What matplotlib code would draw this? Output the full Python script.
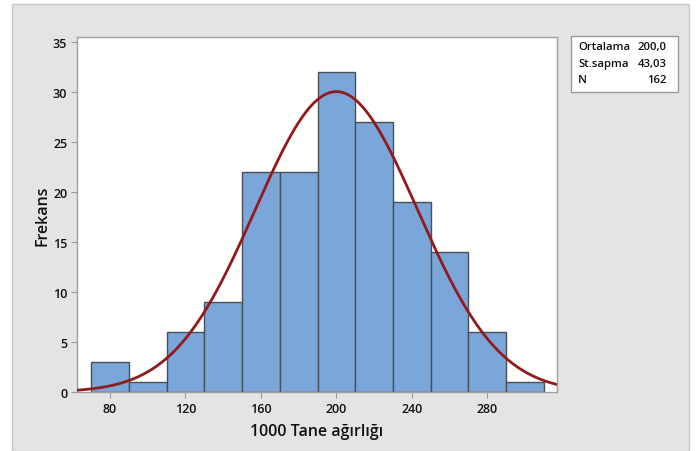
import numpy as np
import matplotlib.pyplot as plt
from matplotlib.patches import Rectangle

plt.rcParams['font.family'] = ['Open Sans', 'DejaVu Sans']

# histogram of 1000-seed weight, bins of width 20
bin_edges = [70, 90, 110, 130, 150, 170, 190, 210, 230, 250, 270, 290, 310]
counts = [3, 1, 6, 9, 22, 22, 32, 27, 19, 14, 6, 1]
mean = 200.0
sd = 43.03
n = 162
x_ticks = [80, 120, 160, 200, 240, 280]
y_ticks = [0, 5, 10, 15, 20, 25, 30, 35]
stat_names = ['Ortalama', 'St.sapma', 'N']
stat_values = ['200,0', '43,03', '162']

W, H = 696, 452
fig = plt.figure(figsize=(W / 100, H / 100), dpi=100)
fig.patch.set_facecolor('white')

# grey panel behind everything
fig.patches.append(Rectangle((12 / W, 0), (689 - 12) / W, (H - 5) / H,
                             transform=fig.transFigure, facecolor='#e4e4e4',
                             edgecolor='#c8c8c8', linewidth=1, zorder=-10))

ax = fig.add_axes([77 / W, 1 - 393 / H, (556.5 - 77) / W, (393 - 38) / H])
ax.set_facecolor('white')

widths = np.diff(bin_edges)
ax.bar(bin_edges[:-1], counts, width=widths, align='edge', color='#7ba6da',
       edgecolor='#4a4f57', linewidth=1, zorder=2)

xlim = (62.5, 316.7)
xs = np.linspace(xlim[0], xlim[1], 400)
binw = bin_edges[1] - bin_edges[0]
ys = n * binw * np.exp(-0.5 * ((xs - mean) / sd) ** 2) / (sd * np.sqrt(2 * np.pi))
ax.plot(xs, ys, color='#921a1c', linewidth=2, zorder=3)

ax.set_xlim(*xlim)
ax.set_ylim(0, 35.5)
ax.set_xticks(x_ticks)
ax.set_yticks(y_ticks)
ax.tick_params(direction='out', length=4, width=0.8, color='#9a9a9a',
               labelsize=9, labelcolor='#111111', pad=3)
for lab in ax.get_xticklabels() + ax.get_yticklabels():
    lab.set_fontweight('semibold')
for s in ax.spines.values():
    s.set_color('#a0a0a0')
    s.set_linewidth(1)

ax.set_xlabel('1000 Tane ağırlığı', fontsize=11.5, fontweight='semibold',
              color='#111111', labelpad=6)
ax.set_ylabel('Frekans', fontsize=11.5, fontweight='semibold',
              color='#111111', labelpad=2)

# summary box
fig.patches.append(Rectangle((571 / W, 1 - 93 / H), (678 - 571) / W, (93 - 37) / H,
                             transform=fig.transFigure, facecolor='white',
                             edgecolor='#9a9a9a', linewidth=1, zorder=1))
for i, (name, val) in enumerate(zip(stat_names, stat_values)):
    yy = 1 - (47.5 + i * 16.5) / H
    fig.text(578 / W, yy, name, fontsize=8.2, fontweight='semibold',
             va='center', ha='left', color='#111111')
    fig.text(667 / W, yy, val, fontsize=8.2, fontweight='semibold',
             va='center', ha='right', color='#111111')

fig.savefig('out.png', dpi=100)
